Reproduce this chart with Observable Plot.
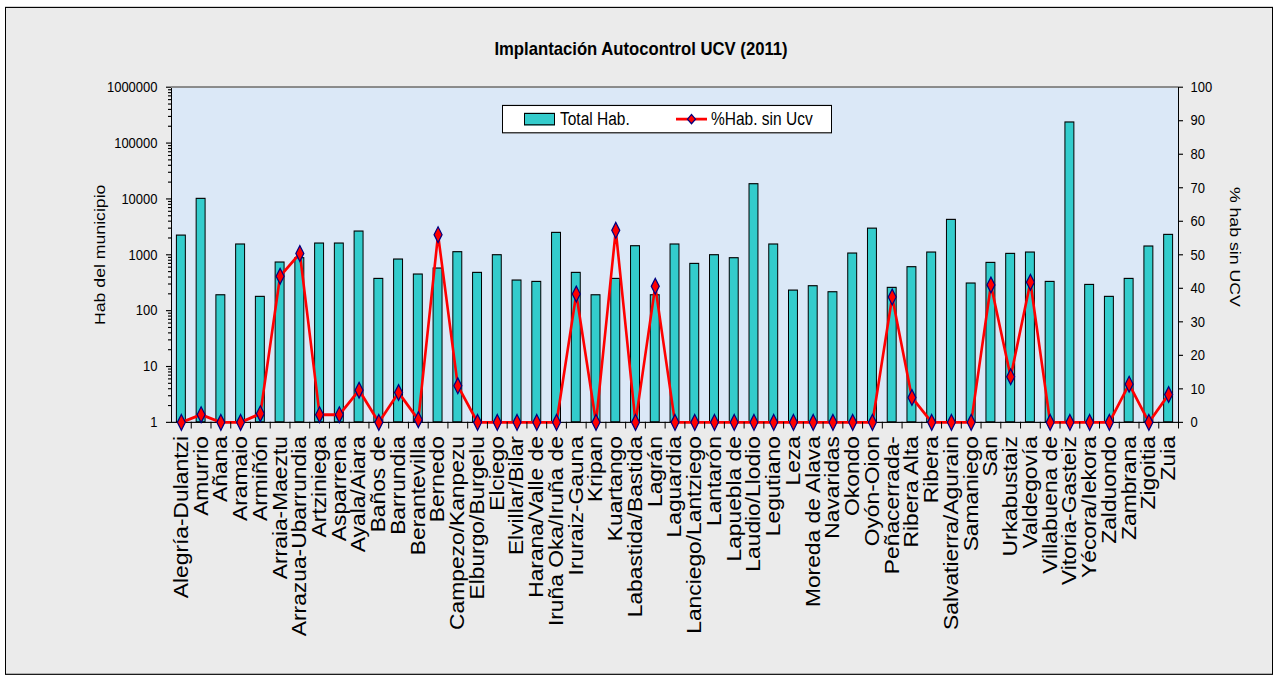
<!DOCTYPE html>
<html><head><meta charset="utf-8">
<script src="https://cdn.jsdelivr.net/npm/d3@7"></script>
<script src="https://cdn.jsdelivr.net/npm/@observablehq/plot@0.6"></script>
<style>
html,body{margin:0;padding:0;background:#fff;overflow:hidden;}
#wrap{position:absolute;left:0;top:0;width:1279px;height:598px;transform:scaleY(1.14);transform-origin:0 0;font-family:"Liberation Sans",Arial,sans-serif;}
#frame{position:absolute;left:5px;top:6px;width:1266px;height:584px;border:1.5px solid #000;background:#ebebeb;}
#chart{position:absolute;left:0;top:0;}
#legend{position:absolute;left:502px;top:92px;width:328px;height:23px;border:1px solid #000;background:#fff;font-size:15.5px;color:#000;}
#legend .sw1{position:absolute;left:21px;top:6px;width:29px;height:9px;background:#33cccc;border:1px solid #000;}
#legend .t{position:absolute;top:0;line-height:23px;white-space:nowrap;}
#legend svg{position:absolute;left:172px;top:0;}
</style>
</head><body>
<div id="wrap">
  <div id="frame"></div>
  <div id="chart"></div>
  <div id="legend">
    <div class="sw1"></div><div class="t" style="left:57px">Total Hab.</div>
    <svg width="33" height="23"><line x1="1" y1="11.5" x2="32" y2="11.5" stroke="#ff0000" stroke-width="2.5"/><path d="M16.5,7.5 L20.5,11.5 L16.5,15.5 L12.5,11.5 Z" fill="#ff0000" stroke="#000080" stroke-width="1.2"/></svg>
    <div class="t" style="left:208px">%Hab. sin Ucv</div>
  </div>
</div>
<script>
const names = ["Alegría-Dulantzi","Amurrio","Añana","Aramaio","Armiñón","Arraia-Maeztu","Arrazua-Ubarrundia","Artziniega","Asparrena","Ayala/Aiara","Baños de","Barrundia","Berantevilla","Bernedo","Campezo/Kanpezu","Elburgo/Burgelu","Elciego","Elvillar/Bilar","Harana/Valle de","Iruña Oka/Iruña de","Iruraiz-Gauna","Kripan","Kuartango","Labastida/Bastida","Lagrán","Laguardia","Lanciego/Lantziego","Lantarón","Lapuebla de","Laudio/Llodio","Legutiano","Leza","Moreda de Alava","Navaridas","Okondo","Oyón-Oion","Peñacerrada-","Ribera Alta","Ribera","Salvatierra/Agurain","Samaniego","San","Urkabustaiz","Valdegovía","Villabuena de","Vitoria-Gasteiz","Yécora/Iekora","Zalduondo","Zambrana","Zigoitia","Zuia"];
const totalHab = [2200,10000,188,1524,176,725,866,1585,1585,2600,369,820,442,566,1110,473,980,345,326,2460,473,188,369,1420,188,1524,685,980,866,18300,1524,228,273,213,1050,2930,255,598,1094,4205,305,714,1035,1094,326,233000,288,176,369,1403,2265];
const pctSinUcv = [0,2.3,0,0,2.6,43.6,50.4,2.3,2.3,9.6,0,8.9,0.8,56,10.9,0,0,0,0,0,38.3,0,57.3,0,40.6,0,0,0,0,0,0,0,0,0,0,0,37.4,7.4,0,0,0,41,13.6,41.8,0,0,0,0,11.4,0,8.3];
const leftTicks = [1,10,100,1000,10000,100000,1000000];
const rightTicks = [0,10,20,30,40,50,60,70,80,90,100];

// y scale is in decades (log10 of inhabitants); the % series shares it: 100 % = 6 decades
const data = names.map((n,i)=>({name:n,total:totalHab[i],pct:pctSinUcv[i]}));
const W = 1279, H = 598, ML = 171, MR = 101, MT = 76, MB = 228;
const step = (W-ML-MR)/names.length;
const pctToY = p => p*6/100;
const minor = [];
for (let k=0;k<6;k++) for (let m=2;m<=9;m++) minor.push(Math.log10(m*Math.pow(10,k)));

const chart = Plot.plot({
  width: W, height: H,
  marginLeft: ML, marginRight: MR, marginTop: MT, marginBottom: MB,
  style: {fontFamily: '"Liberation Sans", Arial, sans-serif', fontSize: "13px", color: "#000", background: "transparent", overflow: "visible"},
  x: {type: "band", domain: names, padding: 0},
  y: {type: "linear", domain: [0, 6]},
  marks: [
    Plot.frame({fill: "#dbe8f7", stroke: "#000"}),
    Plot.ruleY([6], {stroke: "#8a8a8a", strokeWidth: 1.5}),
    Plot.barY(data, {x: "name", y1: 0, y2: d => Math.log10(d.total), fill: "#33cccc", stroke: "#000", strokeWidth: 1, insetLeft: 5.4, insetRight: 5.4}),
    Plot.line(data, {x: "name", y: d => pctToY(d.pct), stroke: "#ff0000", strokeWidth: 2.6}),
    Plot.dot(data, {x: "name", y: d => pctToY(d.pct), symbol: "diamond", r: 4.2, fill: "#ff0000", stroke: "#000080", strokeWidth: 1.2}),
    Plot.ruleX(names, {x: d => d, dx: step/2, y1: 0, y2: -0.12, stroke: "#000"}),
    Plot.axisY({ticks: leftTicks.map(v => Math.log10(v)), tickFormat: d => Math.round(Math.pow(10, d)).toFixed(0), tickSize: 5, tickPadding: 9, fontSize: 13, label: null}),
    Plot.axisY({ticks: minor, tickFormat: () => "", tickSize: 3, label: null}),
    Plot.axisY({anchor: "right", ticks: rightTicks.map(pctToY), tickFormat: d => String(Math.round(d*100/6)), tickSize: 4, tickPadding: 8, fontSize: 13, label: null}),
    Plot.axisX({tickSize: 0, tickPadding: 12, tickRotate: -90, fontSize: 20, label: null}),
    Plot.text(["Hab del municipio"], {text: d => d, frameAnchor: "left", textAnchor: "middle", dx: -71, rotate: -90, fontSize: 15.5, fill: "#000"}),
    Plot.text(["% hab sin UCV"], {text: d => d, frameAnchor: "right", textAnchor: "middle", dx: 56, dy: -7, rotate: 90, fontSize: 15.5, fill: "#000"}),
    Plot.text(["Implantación Autocontrol UCV (2011)"], {text: d => d, frameAnchor: "top", lineAnchor: "middle", dx: -34, dy: -34, fontSize: 16.7, fontWeight: "bold", fill: "#000"})
  ]
});
document.getElementById("chart").appendChild(chart);
</script>
</body></html>
